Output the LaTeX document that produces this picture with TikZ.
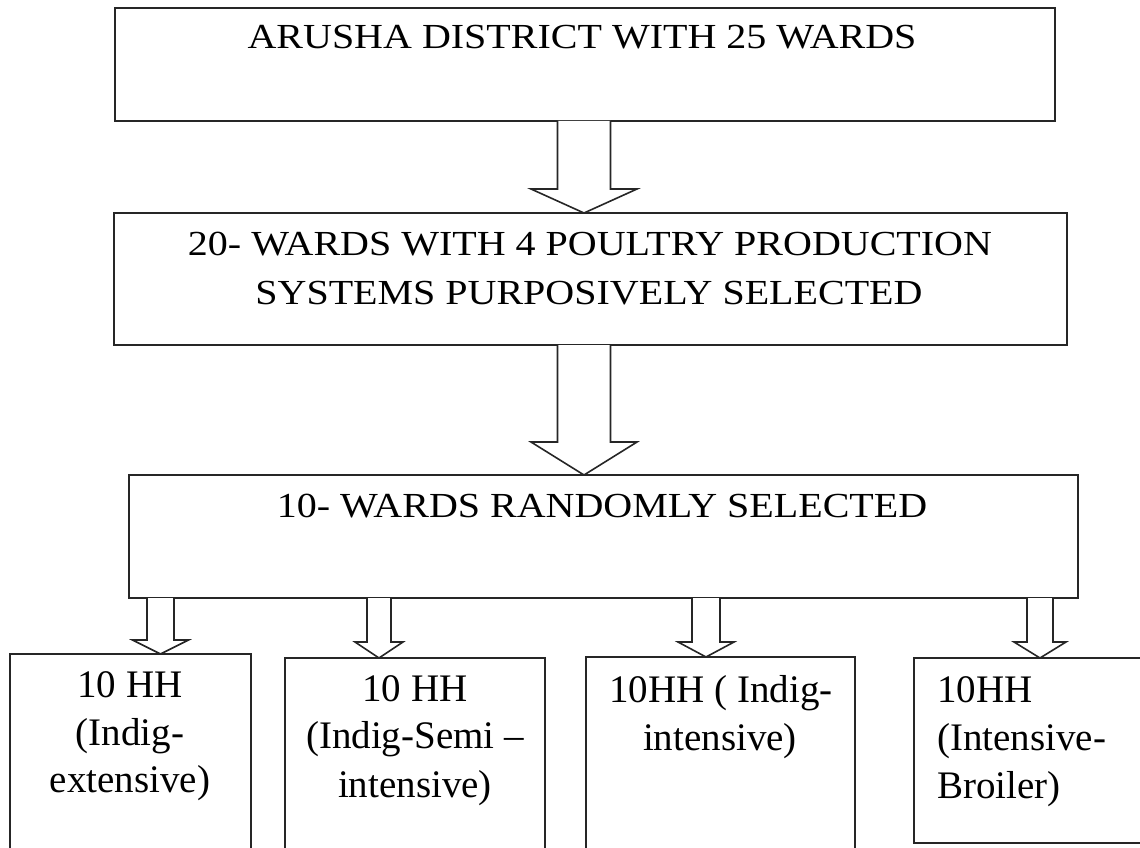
\documentclass[tikz,border=0pt]{standalone}
\usepackage{graphicx}
\usepackage{fontspec}
\setmainfont{Liberation Serif}
\usetikzlibrary{calc}
\newcommand\vsq[1]{\scalebox{1}[0.88]{#1}}
\newcommand\blockarr[6]{%
  \path[barrow] let \p1=(#2.south), \p2=(#3.north) in
    (#1pt-#4pt,\y1) -- (#1pt-#4pt,\y2+#6pt) -- (#1pt-#5pt,\y2+#6pt) -- (#1pt,\y2)
    -- (#1pt+#5pt,\y2+#6pt) -- (#1pt+#4pt,\y2+#6pt) -- (#1pt+#4pt,\y1);%
}
\begin{document}
\begin{tikzpicture}[x=1pt,y=-1pt,
  box/.style={draw=black!85, line width=2pt, fill=white, inner sep=0pt, outer sep=0pt, anchor=north west},
  bigtx/.style={anchor=base, inner sep=0pt, font=\fontsize{40}{48}\selectfont},
  smalltx/.style={anchor=base, inner sep=0pt, font=\fontsize{39}{47}\selectfont},
  lefttx/.style={anchor=base west, inner sep=0pt, font=\fontsize{39}{47}\selectfont},
  barrow/.style={draw=black!85, line width=1.6pt, fill=white, line join=miter}]
\useasboundingbox (0,0) rectangle (1140,848);
\clip (0,0) rectangle (1140,848);
% boxes
\node[box, minimum width=940pt, minimum height=113pt] (b1) at (115,8) {};
\node[box, minimum width=953pt, minimum height=132pt] (b2) at (114,213) {};
\node[box, minimum width=949pt, minimum height=123pt] (b3) at (129,475) {};
\node[box, minimum width=241pt, minimum height=220pt] (ba) at (10,654) {};
\node[box, minimum width=260pt, minimum height=220pt] (bb) at (285,658) {};
\node[box, minimum width=269pt, minimum height=220pt] (bc) at (586,657) {};
\node[box, minimum width=240pt, minimum height=185pt] (bd) at (914,658) {};
% block arrows
\blockarr{584}{b1}{b2}{26.5}{53}{24}
\blockarr{584}{b2}{b3}{26.5}{53}{33}
\blockarr{160.5}{b3}{ba}{13.5}{28}{14}
\blockarr{379}{b3}{bb}{12}{24}{16}
\blockarr{706}{b3}{bc}{14}{28}{15}
\blockarr{1040}{b3}{bd}{13}{26}{16}
% texts
\node[bigtx] (t1) at (582,49) {\vsq{ARUSHA DISTRICT WITH 25 WARDS}};
\node[bigtx] (t2a) at (590,255) {\vsq{20- WARDS WITH 4 POULTRY PRODUCTION}};
\node[bigtx] (t2b) at (589,304) {\vsq{SYSTEMS PURPOSIVELY SELECTED}};
\node[bigtx] (t3) at (602,517) {\vsq{10- WARDS RANDOMLY SELECTED}};
\node[smalltx] (ta1) at (130,697) {10 HH};
\node[smalltx] (ta2) at (130,745) {(Indig-};
\node[smalltx] (ta3) at (130,792) {extensive)};
\node[smalltx] (tb1) at (415,701) {10 HH};
\node[smalltx] (tb2) at (415,748) {(Indig-Semi –};
\node[smalltx] (tb3) at (415,797) {intensive)};
\node[smalltx] (tc1) at (721,702) {10HH ( Indig-};
\node[smalltx] (tc2) at (720,750) {intensive)};
\node[lefttx] (td1) at (937,702) {10HH};
\node[lefttx] (td2) at (937,750) {(Intensive-};
\node[lefttx] (td3) at (937,798) {Broiler)};
\end{tikzpicture}
\end{document}
